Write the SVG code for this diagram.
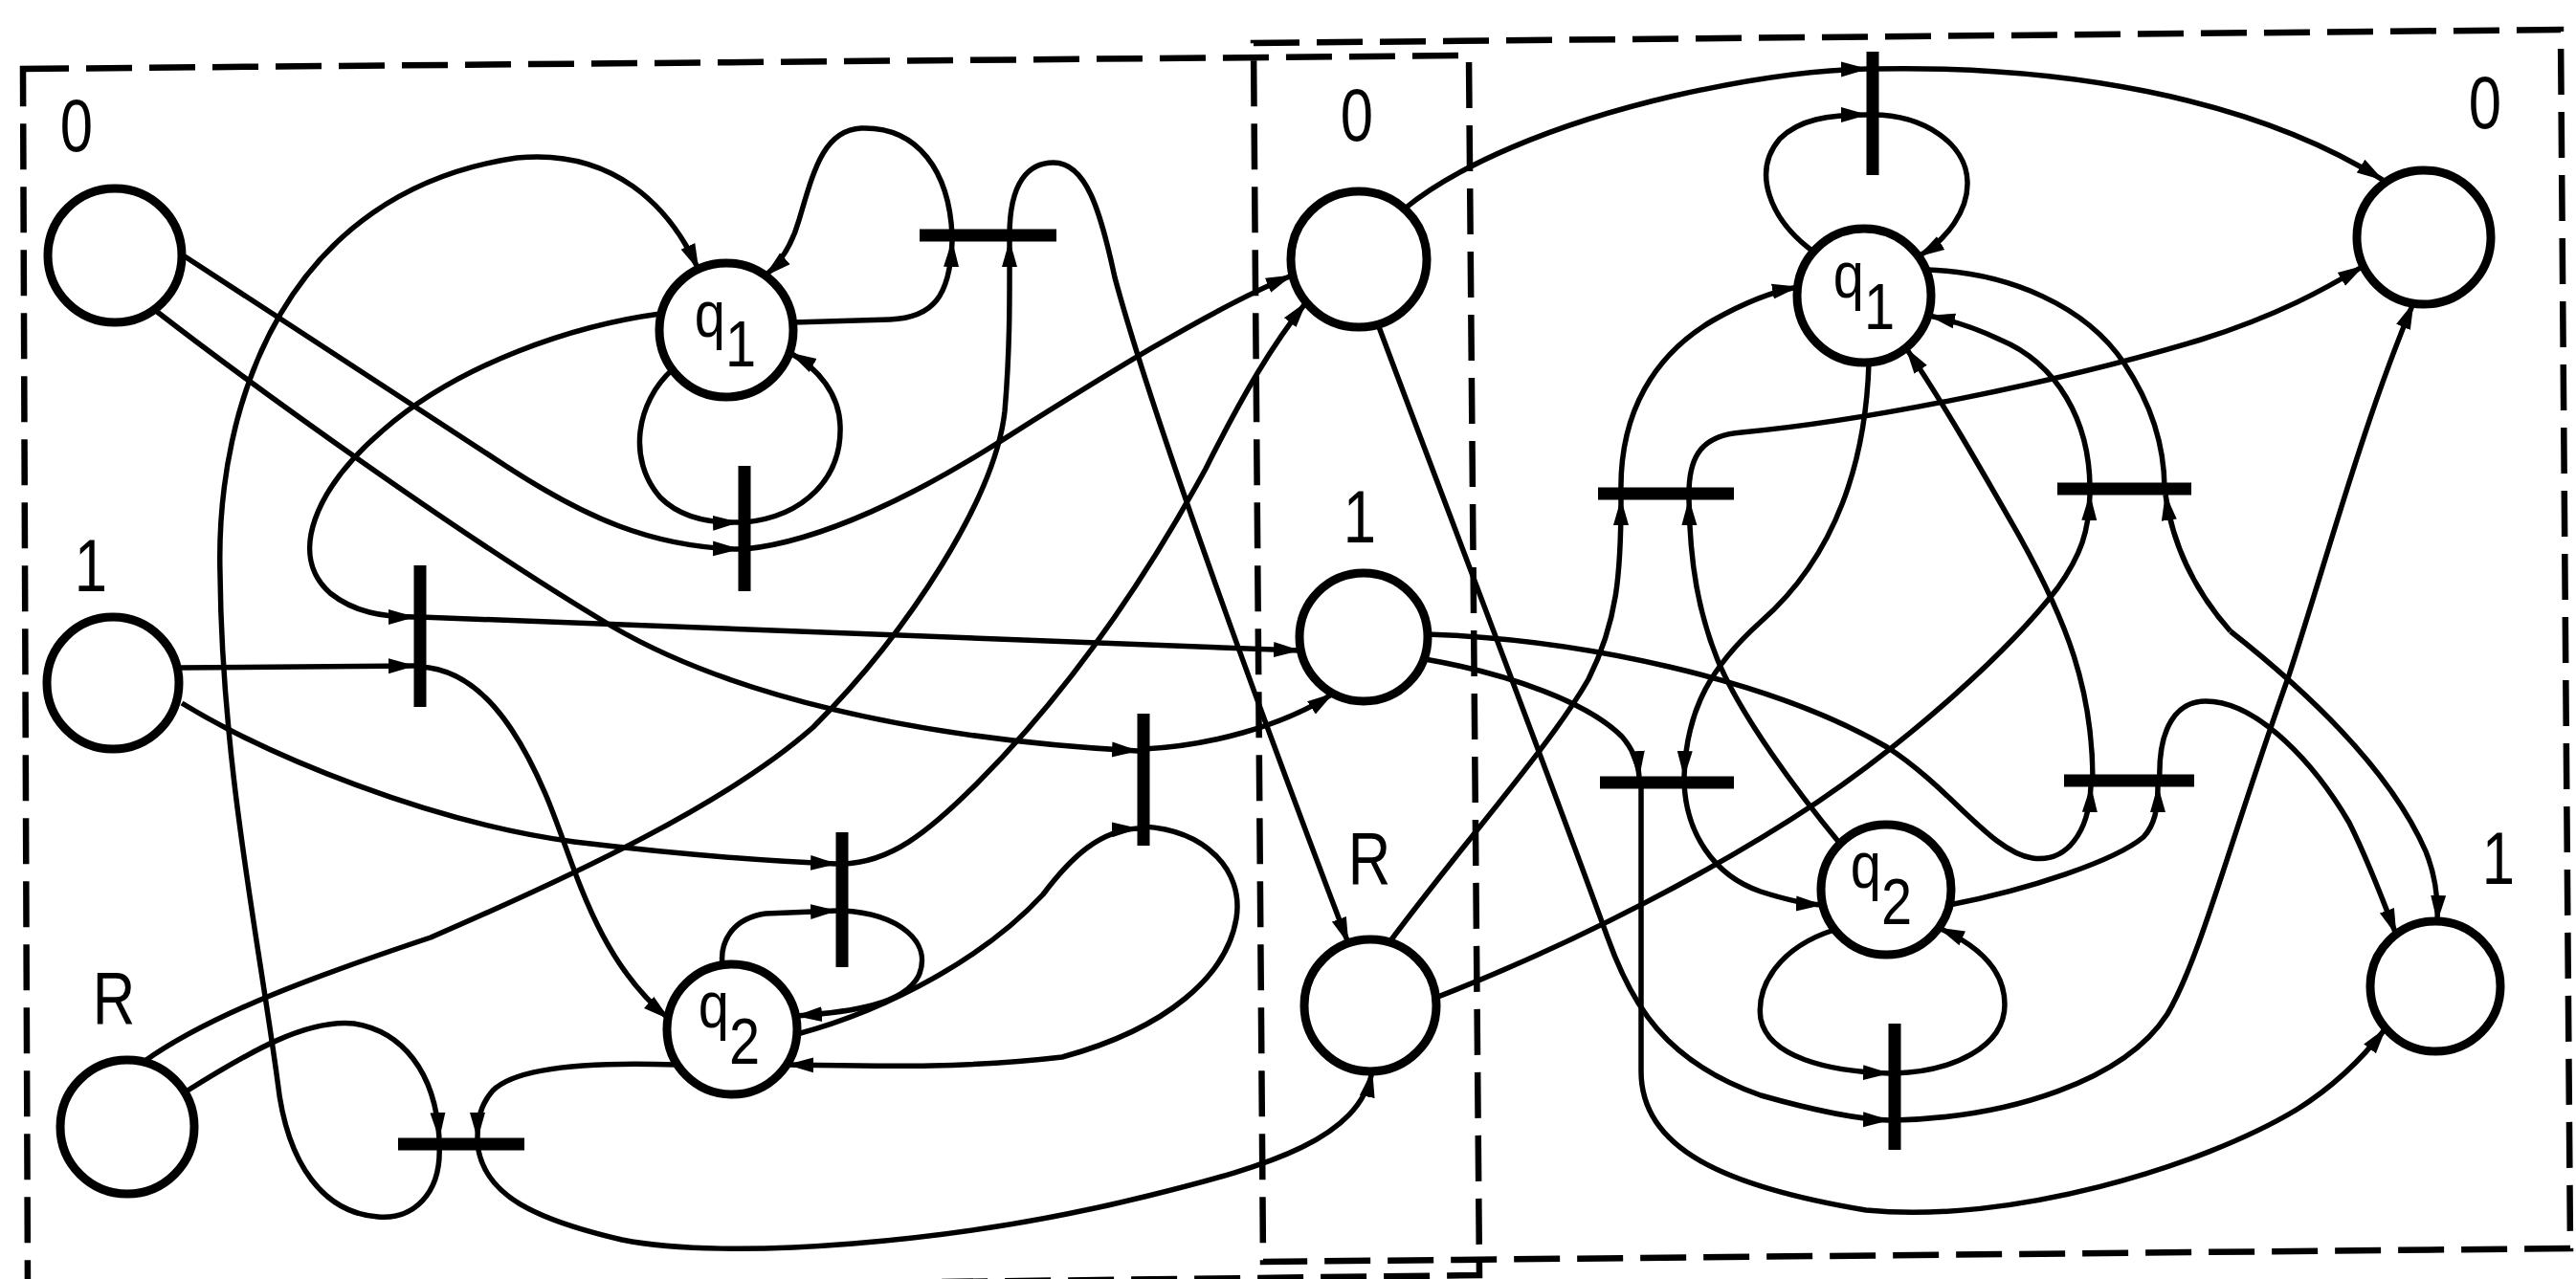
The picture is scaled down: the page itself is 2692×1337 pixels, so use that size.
<svg xmlns="http://www.w3.org/2000/svg" width="2692" height="1337" viewBox="0 0 2692 1337">
<defs>
<marker id="ah" viewBox="0 0 28 20" refX="27" refY="10" markerWidth="28" markerHeight="20" markerUnits="userSpaceOnUse" orient="auto"><path d="M0,2 L28,10 L0,18 Z" fill="#000"/></marker>
<style>
.place{fill:none;stroke:#000;stroke-width:9}
.bar{stroke:#000;stroke-width:13;stroke-linecap:butt}
.arc{fill:none;stroke:#000;stroke-width:5.5}
.a{marker-end:url(#ah)}
.box{fill:none;stroke:#000;stroke-width:6.5;stroke-dasharray:48 18}
.lbl{font-family:"Liberation Sans",Arial,sans-serif;font-size:77px;text-anchor:middle;fill:#000}
.qt{font-family:"Liberation Sans",Arial,sans-serif;font-size:68px;text-anchor:middle;fill:#000}
</style>
</defs>
<rect width="2692" height="1337" fill="#fff"/>
<g id="boxes">
<path class="box" d="M24,72 L1535,58 L1546,1333 L29,1352 Z"/>
<path class="box" d="M1310,45 L2676,31 L2686,1305 L1320,1319 Z"/>
</g>
<g id="connectors">
<path class="arc a" d="M193,268 L530,488 C610,540 680,572 772,574"/>
<path class="arc a" d="M778,574 C860,566 960,515 1041,464 C1130,408 1260,325 1350,288"/>
<path class="arc a" d="M703,386 C665,420 655,480 690,520 C710,540 740,547 772,546"/>
<path class="arc a" d="M778,546 C840,540 880,500 878,445 C877,412 855,385 826,369"/>
<path class="arc a" d="M163,325 C260,400 480,560 640,655 C760,725 950,772 1189,785"/>
<path class="arc a" d="M1195,783 C1260,780 1340,760 1393,725"/>
<path class="arc a" d="M690,328 C600,340 480,380 400,450 C330,510 300,580 345,620 C370,640 400,645 433,645"/>
<path class="arc a" d="M439,645 C700,655 1100,670 1358,680"/>
<path class="arc a" d="M188,698 L433,696"/>
<path class="arc a" d="M439,697 C500,700 540,760 570,830 C600,900 620,1000 699,1065"/>
<path class="arc a" d="M190,735 C280,790 450,860 600,880 C700,892 800,900 874,903"/>
<path class="arc a" d="M880,903 C930,902 970,870 1020,820 C1120,720 1200,600 1260,490 C1300,410 1330,360 1365,316"/>
<path class="arc a" d="M755,1009 C752,985 765,960 800,955 L874,952"/>
<path class="arc a" d="M880,952 C940,955 975,985 960,1020 C945,1050 890,1058 832,1062"/>
<path class="arc a" d="M833,1081 C930,1055 1030,1000 1090,935 C1120,895 1150,868 1189,866"/>
<path class="arc a" d="M1195,864 C1260,868 1300,910 1292,960 C1282,1020 1220,1075 1110,1105 C1000,1118 900,1114 823,1113"/>
<path class="arc a" d="M829,337 L930,334 C975,332 993,310 995,252"/>
<path class="arc a" d="M995,246 C992,180 960,132 900,134 C860,136 850,180 835,230 C828,255 815,275 800,288"/>
<path class="arc a" d="M150,1110 C220,1060 330,1020 450,980 C600,915 760,840 850,760 C950,660 1040,520 1050,430 C1056,360 1055,300 1055,252"/>
<path class="arc a" d="M1055,246 C1055,190 1075,170 1101,170 C1135,170 1150,220 1165,290 C1200,420 1300,700 1409,986"/>
<path class="arc a" d="M196,1140 C260,1100 320,1065 370,1070 C420,1078 455,1120 459,1190"/>
<path class="arc a" d="M459,1196 C462,1250 430,1275 395,1272 C340,1268 300,1220 290,1130 C270,980 232,800 230,600 C225,420 300,200 540,165 C640,155 700,215 730,282"/>
<path class="arc a" d="M707,1113 C620,1110 540,1115 515,1140 C502,1155 499,1170 499,1190"/>
<path class="arc a" d="M499,1196 C505,1250 560,1275 650,1296 C760,1318 1000,1300 1200,1250 C1330,1218 1420,1190 1434,1120"/>
<path class="arc a" d="M1468,218 C1520,175 1620,130 1750,100 C1830,82 1900,73 1951,72"/>
<path class="arc a" d="M1957,72 C2150,68 2350,100 2490,188"/>
<path class="arc a" d="M1895,263 C1850,230 1830,180 1860,145 C1880,125 1910,120 1951,120"/>
<path class="arc a" d="M1957,120 C2010,120 2055,150 2056,190 C2057,220 2035,250 2005,268"/>
<path class="arc a" d="M1452,985 C1530,880 1620,780 1660,710 C1690,650 1694,600 1694,522"/>
<path class="arc a" d="M1694,516 C1692,430 1730,370 1790,335 C1820,318 1850,305 1879,300"/>
<path class="arc a" d="M1923,882 C1880,830 1820,750 1795,690 C1775,640 1766,590 1765,522"/>
<path class="arc a" d="M1765,516 C1765,475 1780,455 1820,452 C1950,440 2150,400 2300,355 C2380,330 2430,302 2470,278"/>
<path class="arc a" d="M1500,1043 C1650,985 1800,905 1900,838 C2000,770 2100,680 2150,615 C2175,580 2183,555 2184,517"/>
<path class="arc a" d="M2184,511 C2184,440 2150,380 2090,355 C2065,343 2040,335 2016,330"/>
<path class="arc" d="M2014,282 C2100,285 2180,320 2220,380 C2250,425 2262,470 2262,511"/>
<path class="arc a" d="M2331,660 C2300,625 2272,580 2263,517"/>
<path class="arc a" d="M2331,660 C2420,730 2500,810 2535,890 C2545,915 2548,940 2547,963"/>
<path class="arc a" d="M1491,663 C1650,668 1850,710 1972,781 C2040,825 2080,890 2124,897 C2160,902 2183,870 2185,822"/>
<path class="arc a" d="M2187,816 C2187,720 2160,650 2110,560 C2070,490 2030,420 1992,364"/>
<path class="arc a" d="M2037,946 C2120,930 2210,900 2240,875 C2252,862 2255,845 2255,822"/>
<path class="arc a" d="M2257,816 C2255,760 2275,733 2305,733 C2360,733 2420,800 2455,860 C2475,900 2490,940 2504,977"/>
<path class="arc a" d="M1489,689 C1580,705 1660,735 1695,770 C1708,785 1712,800 1713,812"/>
<path class="arc a" d="M1715,818 L1715,1120 C1715,1200 1800,1240 1950,1265 C2100,1280 2300,1220 2400,1160 C2440,1135 2470,1105 2493,1075"/>
<path class="arc a" d="M1953,379 C1950,480 1920,580 1840,650 C1790,695 1762,740 1760,812"/>
<path class="arc a" d="M1760,818 C1762,870 1790,915 1840,932 C1865,940 1885,945 1904,946"/>
<path class="arc a" d="M1917,972 C1860,990 1835,1030 1840,1065 C1848,1105 1910,1120 1974,1122"/>
<path class="arc a" d="M1980,1122 C2040,1120 2095,1095 2095,1050 C2095,1010 2060,985 2026,970"/>
<path class="arc a" d="M1440,339 C1500,500 1600,760 1680,980 C1705,1050 1740,1110 1840,1145 C1900,1162 1940,1170 1974,1171"/>
<path class="arc a" d="M1980,1171 C2100,1168 2220,1130 2265,1060 C2300,1000 2330,880 2392,706 C2430,590 2470,440 2522,317"/>
</g>
<g id="p0-left"><circle class="place" cx="120" cy="267" r="70"/><text class="lbl" transform="translate(80,158) scale(0.8,1)">0</text></g>
<g id="p1-left"><circle class="place" cx="118" cy="714" r="69"/><text class="lbl" transform="translate(95,618) scale(0.8,1)">1</text></g>
<g id="pR-left"><circle class="place" cx="133" cy="1178" r="70"/><text class="lbl" transform="translate(119,1070) scale(0.8,1)">R</text></g>
<g id="q1-left"><circle class="place" cx="759" cy="345" r="70"/><text class="qt" transform="translate(758,352) scale(0.85,1)">q<tspan dy="31">1</tspan></text></g>
<g id="q2-left"><circle class="place" cx="765" cy="1076" r="68"/><text class="qt" transform="translate(762,1074) scale(0.85,1)">q<tspan dy="38">2</tspan></text></g>
<g id="p0-mid"><circle class="place" cx="1420" cy="271" r="71"/><text class="lbl" transform="translate(1418,147) scale(0.8,1)">0</text></g>
<g id="p1-mid"><circle class="place" cx="1425" cy="666" r="67"/><text class="lbl" transform="translate(1421,567) scale(0.8,1)">1</text></g>
<g id="pR-mid"><circle class="place" cx="1432" cy="1051" r="69"/><text class="lbl" transform="translate(1431,924) scale(0.8,1)">R</text></g>
<g id="q1-right"><circle class="place" cx="1948" cy="309" r="70"/><text class="qt" transform="translate(1948,311) scale(0.85,1)">q<tspan dy="33">1</tspan></text></g>
<g id="q2-right"><circle class="place" cx="1971" cy="930" r="68"/><text class="qt" transform="translate(1966,928) scale(0.85,1)">q<tspan dy="38">2</tspan></text></g>
<g id="p0-right"><circle class="place" cx="2533" cy="248" r="70"/><text class="lbl" transform="translate(2597,134) scale(0.8,1)">0</text></g>
<g id="p1-right"><circle class="place" cx="2545" cy="1031" r="68"/><text class="lbl" transform="translate(2611,924) scale(0.8,1)">1</text></g>
<g id="t1"><line class="bar" x1="778" y1="487" x2="778" y2="618"/></g>
<g id="t2"><line class="bar" x1="439" y1="591" x2="439" y2="739"/></g>
<g id="t3"><line class="bar" x1="961" y1="246" x2="1104" y2="246"/></g>
<g id="t4"><line class="bar" x1="880" y1="870" x2="880" y2="1011"/></g>
<g id="t5"><line class="bar" x1="1195" y1="746" x2="1195" y2="884"/></g>
<g id="t6"><line class="bar" x1="416" y1="1196" x2="548" y2="1196"/></g>
<g id="t7"><line class="bar" x1="1957" y1="54" x2="1957" y2="183"/></g>
<g id="t8"><line class="bar" x1="1670" y1="516" x2="1812" y2="516"/></g>
<g id="t9"><line class="bar" x1="2150" y1="511" x2="2290" y2="511"/></g>
<g id="t10"><line class="bar" x1="1672" y1="818" x2="1812" y2="818"/></g>
<g id="t11"><line class="bar" x1="2157" y1="816" x2="2293" y2="816"/></g>
<g id="t12"><line class="bar" x1="1980" y1="1070" x2="1980" y2="1202"/></g>
</svg>
